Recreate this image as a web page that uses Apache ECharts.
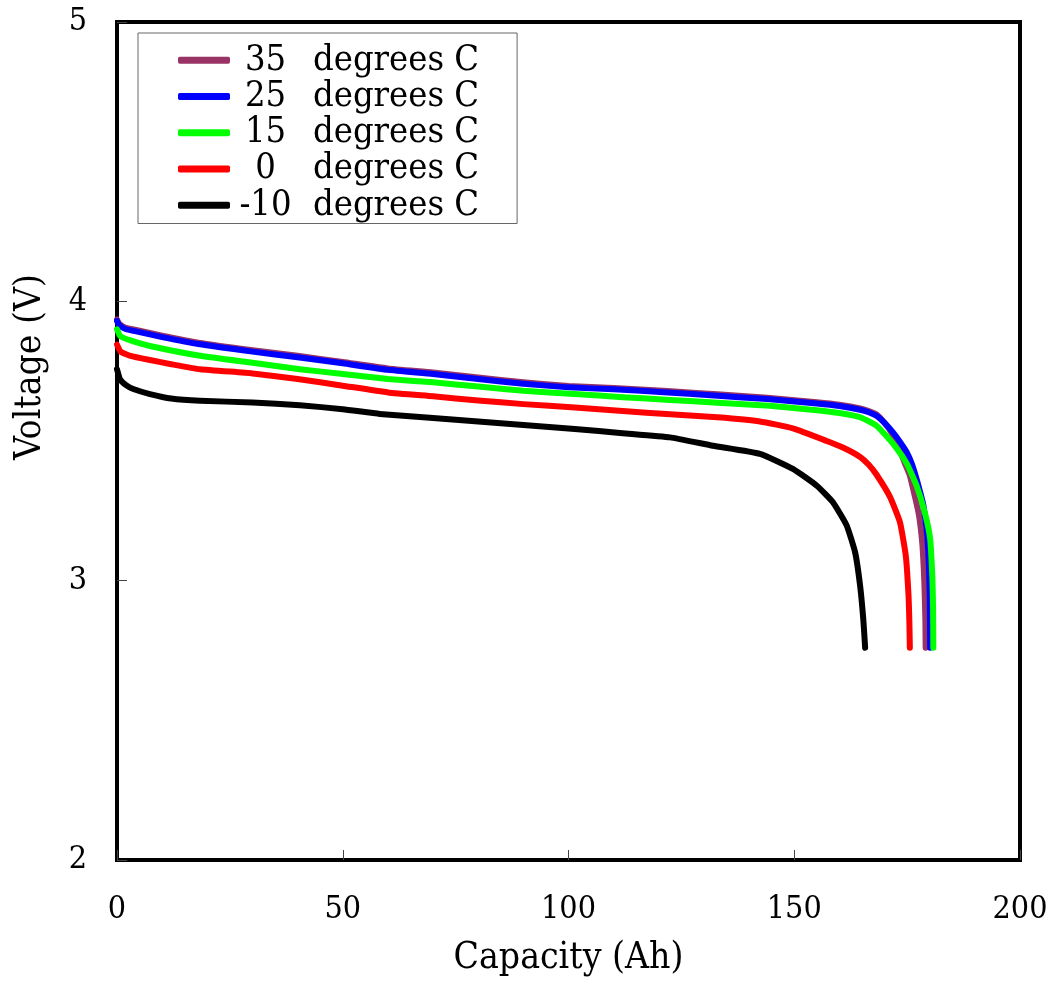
<!DOCTYPE html>
<html>
<head>
<meta charset="utf-8">
<script src="https://cdn.jsdelivr.net/npm/echarts@6/dist/echarts.min.js"></script>
<style>
html,body{margin:0;padding:0;background:#fff;}
#chart{width:1053px;height:982px;}
</style>
</head>
<body>
<div id="chart"></div>
<script>
// ---- data (Capacity Ah, Voltage V) ----
const seriesNames = ['35 degrees C', '25 degrees C', '15 degrees C', '0 degrees C', '-10 degrees C'];
const seriesColors = ['#993366', '#0000ff', '#00ff00', '#ff0000', '#000000'];

const curve35 = [[0,3.935],[0.5,3.92],[2,3.905],[5,3.895],[10,3.877],[18,3.852],[30,3.825],[40,3.805],[50,3.783],[60,3.76],[70,3.745],[80,3.727],[90,3.71],[100,3.697],[110,3.69],[122,3.679],[133,3.667],[144,3.655],[155,3.639],[160,3.63],[164.6,3.617],[166.5,3.607],[168.2,3.595],[170,3.565],[171.5,3.53],[173.4,3.465],[174.5,3.42],[175.6,3.376],[176.6,3.31],[177.5,3.245],[178,3.19],[178.4,3.126],[178.7,3.04],[178.9,2.95],[179.05,2.85],[179.1,2.76]];
const curve25 = [[0,3.93],[0.5,3.915],[2,3.9],[5,3.89],[10,3.872],[18,3.847],[30,3.82],[40,3.8],[50,3.778],[60,3.755],[70,3.74],[80,3.722],[90,3.705],[100,3.692],[110,3.685],[122,3.674],[133,3.662],[144,3.65],[155,3.634],[160,3.625],[164.6,3.612],[166.5,3.603],[168.2,3.59],[170,3.565],[171.9,3.53],[173.5,3.495],[174.9,3.46],[176,3.42],[177.1,3.364],[178,3.31],[178.6,3.27],[179.1,3.21],[179.5,3.15],[179.8,3.06],[180,2.95],[180.1,2.76]];
const curve15 = [[0,3.9],[0.7,3.876],[3,3.86],[7.3,3.84],[18.4,3.805],[30,3.78],[40.5,3.757],[50,3.74],[60,3.722],[70,3.71],[80,3.695],[90,3.68],[101.4,3.668],[112,3.657],[122.5,3.647],[133,3.637],[144.6,3.626],[155,3.61],[160,3.6],[164.6,3.585],[168.2,3.555],[170,3.525],[171.9,3.49],[174.9,3.42],[177.1,3.34],[178.9,3.245],[180.1,3.15],[180.6,3.007],[180.75,2.9],[180.8,2.76]];
const curve0 = [[0,3.845],[0.8,3.82],[3,3.805],[7.3,3.79],[12,3.775],[18.4,3.757],[30,3.742],[40,3.722],[50,3.698],[60,3.674],[70,3.66],[80,3.645],[90,3.632],[101.4,3.62],[112,3.607],[122.5,3.596],[133,3.585],[142.4,3.57],[149.7,3.545],[157.2,3.5],[161,3.475],[164.6,3.443],[166.5,3.415],[168.2,3.38],[171.2,3.3],[173.4,3.21],[174.7,3.09],[175.3,2.95],[175.5,2.85],[175.6,2.76]];
const curveM10 = [[0,3.757],[0.7,3.72],[2,3.7],[3.6,3.686],[7.3,3.668],[12,3.652],[18.4,3.644],[30,3.638],[40.5,3.628],[50,3.614],[58.2,3.597],[70,3.582],[80,3.57],[90,3.557],[101.4,3.543],[112,3.528],[122.5,3.513],[132,3.483],[142.4,3.454],[149.7,3.4],[155,3.34],[158.6,3.28],[161.6,3.198],[163.5,3.1],[164.6,2.98],[165.3,2.86],[165.7,2.76]];
const curves = [curve35, curve25, curve15, curve0, curveM10];

const xTicks = [0, 50, 100, 150, 200];
const yTicks = [2, 3, 4, 5];

const FONT = '"DejaVu Serif Condensed", "Liberation Serif", serif';
const FS = 32;
const FS_LABEL = 37;
const FS_LEGEND = 36;

const chart = echarts.init(document.getElementById('chart'), null, {renderer: 'canvas'});

const series = seriesNames.map((name, i) => ({
  name: name,
  type: 'line',
  data: curves[i],
  symbol: 'none',
  smooth: 0.15,
  color: seriesColors[i],
  lineStyle: {width: 6, color: seriesColors[i], cap: 'round', join: 'round'},
  z: 2 + i
}));

chart.setOption({
  animation: false,
  backgroundColor: '#fff',
  grid: {left: 117, right: 33, top: 22, bottom: 120, show: true, borderColor: '#000', borderWidth: 4, backgroundColor: 'transparent'},
  xAxis: {
    type: 'value', min: xTicks[0], max: xTicks[xTicks.length - 1], interval: 50,
    name: 'Capacity (Ah)', nameLocation: 'middle', nameGap: 80,
    nameTextStyle: {fontFamily: FONT, fontSize: FS_LABEL, color: '#000'},
    axisLine: {show: false},
    axisTick: {show: true, inside: true, length: 10, lineStyle: {color: '#444', width: 1}},
    axisLabel: {fontFamily: FONT, fontSize: FS, color: '#000', margin: 34},
    splitLine: {show: false}
  },
  yAxis: {
    type: 'value', min: yTicks[0], max: yTicks[yTicks.length - 1], interval: 1,
    axisLine: {show: false},
    axisTick: {show: true, inside: true, length: 10, lineStyle: {color: '#444', width: 1}},
    axisLabel: {fontFamily: FONT, fontSize: FS, color: '#000', margin: 30},
    splitLine: {show: false}
  },
  legend: {
    orient: 'vertical', left: 138, top: 33,
    padding: [9, 38, 0, 40],
    borderColor: '#666', borderWidth: 1,
    backgroundColor: '#fff',
    icon: 'roundRect',
    itemWidth: 52, itemHeight: 7,
    itemGap: 0,
    data: seriesNames,
    formatter: function (name) {
      const parts = name.split(' ');
      return '{n|' + parts[0] + '}{t|' + parts.slice(1).join(' ') + '}';
    },
    textStyle: {
      fontFamily: FONT, fontSize: FS_LEGEND, color: '#000', lineHeight: 36.3,
      rich: {
        n: {fontFamily: FONT, fontSize: FS_LEGEND, width: 61, align: 'right', lineHeight: 36.3},
        t: {fontFamily: FONT, fontSize: FS_LEGEND, padding: [0, 0, 0, 17], lineHeight: 36.3}
      }
    }
  },
  graphic: [{
    type: 'text',
    x: 30, y: 367,
    rotation: Math.PI / 2,
    style: {text: 'Voltage (V)', fontFamily: FONT, fontSize: FS_LABEL, fill: '#000', textAlign: 'center', textVerticalAlign: 'middle'}
  }],
  series: series
});
</script>
</body>
</html>
